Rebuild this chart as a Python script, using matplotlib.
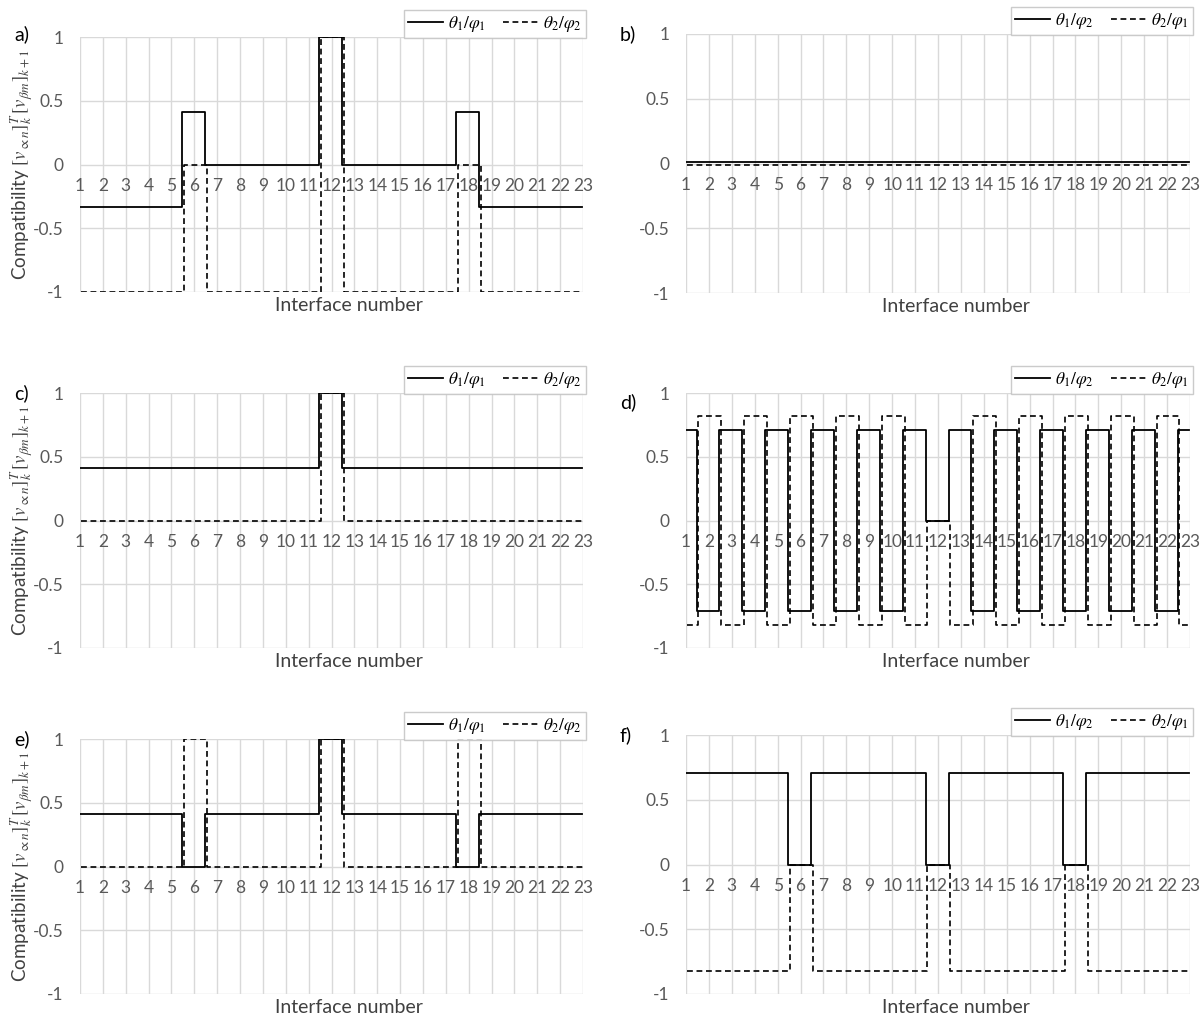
import matplotlib
matplotlib.use('Agg')
import matplotlib.pyplot as plt
import numpy as np

plt.rcParams['font.family'] = ['Lato', 'DejaVu Sans']
plt.rcParams['mathtext.fontset'] = 'stix'

# interface numbers
interfaces = list(range(1, 24))

# panel a) theta1/phi1 and theta2/phi2
a_solid = [-0.33] * 5 + [0.41] + [0] * 5 + [1] + [0] * 5 + [0.41] + [-0.33] * 5
a_dash = [-1] * 5 + [0] + [-1] * 5 + [1] + [-1] * 5 + [0] + [-1] * 5

# panel b) theta1/phi2 and theta2/phi1
b_solid = [0.01] * 23
b_dash = [-0.01] * 23

# panel c)
c_solid = [0.41] * 11 + [1] + [0.41] * 11
c_dash = [0] * 11 + [1] + [0] * 11

# panel d)
d_solid = [0.71, -0.71] * 5 + [0.71, 0, 0.71] + [-0.71, 0.71] * 5
d_dash = [-0.82, 0.82] * 5 + [-0.82, 0, -0.82] + [0.82, -0.82] * 5

# panel e)
e_solid = [0.41] * 5 + [0] + [0.41] * 5 + [1] + [0.41] * 5 + [0] + [0.41] * 5
e_dash = [0] * 5 + [1] + [0] * 5 + [1] + [0] * 5 + [1] + [0] * 5

# panel f)
f_solid = [0.71] * 5 + [0] + [0.71] * 5 + [0] + [0.71] * 5 + [0] + [0.71] * 5
f_dash = [-0.82] * 5 + [0] + [-0.82] * 5 + [0] + [-0.82] * 5 + [0] + [-0.82] * 5

legend_left = [r'$\theta_1/\varphi_1$', r'$\theta_2/\varphi_2$']
legend_right = [r'$\theta_1/\varphi_2$', r'$\theta_2/\varphi_1$']

panels = [
    ('a)', a_solid, a_dash, legend_left),
    ('b)', b_solid, b_dash, legend_right),
    ('c)', c_solid, c_dash, legend_left),
    ('d)', d_solid, d_dash, legend_right),
    ('e)', e_solid, e_dash, legend_left),
    ('f)', f_solid, f_dash, legend_right),
]

W, H = 1203, 1019
fig = plt.figure(figsize=(W / 100, H / 100), dpi=100)

# plot areas in pixels: left, top, right, bottom
boxes = [
    (80, 37, 583, 292), (686, 34, 1190, 293),
    (80, 393, 583, 648), (686, 393, 1190, 648),
    (80, 739, 583, 994), (686, 735, 1190, 994),
]
label_pos = [(14, 34), (620, 34), (14, 393), (620, 402), (14, 739), (620, 735)]

grid_col = '#d9d9d9'
text_col = '#595959'
shift = 0.04

for i, (tag, solid, dash, labels) in enumerate(panels):
    l, t, r, b = boxes[i]
    ax = fig.add_axes([l / W, 1 - b / H, (r - l) / W, (b - t) / H])
    x = np.array(interfaces)
    ax.plot(x - shift, solid, color='black', lw=1.3, drawstyle='steps-mid', label=labels[0], zorder=3)
    ax.plot(x + shift, dash, color='black', lw=1.2, ls=(0, (3.5, 2.2)), drawstyle='steps-mid',
            label=labels[1], zorder=4)
    ax.set_xlim(1, 23)
    ax.set_ylim(-1, 1)
    ax.set_xticks(interfaces)
    ax.set_yticks([-1, -0.5, 0, 0.5, 1])
    ax.set_yticklabels(['-1', '-0.5', '0', '0.5', '1'])
    ax.grid(True, color=grid_col, lw=1.0, zorder=0)
    ax.set_axisbelow(True)
    for s in ['top', 'right', 'left']:
        ax.spines[s].set_visible(False)
    ax.spines['bottom'].set_position(('data', 0))
    ax.spines['bottom'].set_visible(False)
    ax.tick_params(axis='x', length=0, pad=10, labelsize=12.5, colors=text_col)
    ax.tick_params(axis='y', length=0, pad=12, labelsize=12.5, colors=text_col)
    ax.text(0.535, -0.02, 'Interface number', transform=ax.transAxes, ha='center', va='top',
            fontsize=14, color='#404040')
    if i % 2 == 0:
        ax.set_ylabel(r'Compatibility $[v_{\propto n}]_k^T\,[v_{\beta m}]_{k+1}$', fontsize=13.5,
                      color='#404040', va='center')
        ax.yaxis.set_label_coords(-0.115, 0.5)
    leg = ax.legend(loc='lower right', bbox_to_anchor=(1.006, 0.995), ncol=2, frameon=True,
                    fancybox=False, edgecolor='#bfbfbf', fontsize=12.5, handlelength=2.0,
                    handletextpad=0.3, columnspacing=1.0, borderpad=0.25, borderaxespad=0.0)
    leg.get_frame().set_linewidth(1.0)
    lx, ly = label_pos[i]
    fig.text(lx / W, 1 - ly / H, tag, fontsize=14, ha='left', va='center', color='black')

fig.savefig('out.png', dpi=100, facecolor='white')
